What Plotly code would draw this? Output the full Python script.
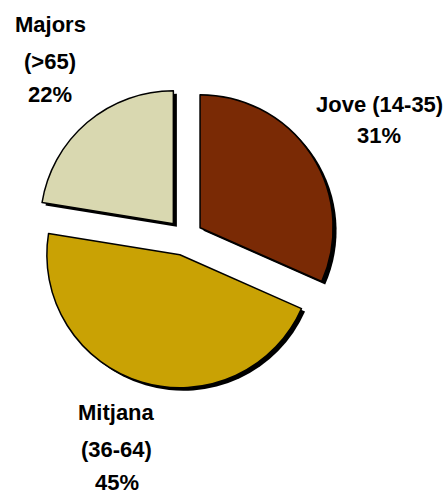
import plotly.graph_objects as go

labels = ["Jove (14-35)", "Mitjana (36-64)", "Majors (>65)"]
label_lines = [["Jove (14-35)"], ["Mitjana", "(36-64)"], ["Majors", "(>65)"]]
values = [31, 45, 22]
colors = ["#7a2a05", "#c9a204", "#d9d8b0"]
pulls = [0.135, 0.135, 0.135]

W, H = 446, 494
cx, cy, half = 185, 237.5, 151  # pixel centre / half-size of pie domain

def dom(dx=0, dy=0):
    x0 = (cx - half + dx) / W
    x1 = (cx + half + dx) / W
    y0 = (H - (cy + half + dy)) / H
    y1 = (H - (cy - half + dy)) / H
    return dict(x=[x0, x1], y=[y0, y1])

fig = go.Figure()
# shadow
fig.add_trace(go.Pie(
    labels=labels, values=values, pull=pulls, sort=False, direction="clockwise",
    rotation=0, textinfo="none", hoverinfo="skip", showlegend=False,
    marker=dict(colors=["#000000"] * 3, line=dict(width=0)),
    domain=dom(3.5, 3),
))
fig.add_trace(go.Pie(
    labels=labels, values=values, pull=pulls, sort=False, direction="clockwise",
    rotation=0, textinfo="none", showlegend=False,
    marker=dict(colors=colors, line=dict(color="#000000", width=1.5)),
    domain=dom(),
))

# label positions (pixels): per category, centre x and line y centres
label_pos = [(379, [104, 136]), (117, [412, 449, 482]), (50, [24, 61, 94])]
for i, (x, ys) in enumerate(label_pos):
    lines = label_lines[i] + [f"{values[i]}%"]
    for line, y in zip(lines, ys):
        fig.add_annotation(
            x=x / W, y=1 - y / H, xref="paper", yref="paper",
            text=f"<b>{line}</b>", showarrow=False,
            xanchor="center", yanchor="middle",
            font=dict(family="Liberation Sans, Arial", size=22, color="#000000"),
        )

fig.update_layout(
    width=W, height=H, margin=dict(l=0, r=0, t=0, b=0),
    paper_bgcolor="#ffffff", plot_bgcolor="#ffffff", showlegend=False,
)
fig.write_html("out.html", config={"displayModeBar": False},
               post_script="document.body.style.margin='0';document.body.style.overflow='hidden';")
